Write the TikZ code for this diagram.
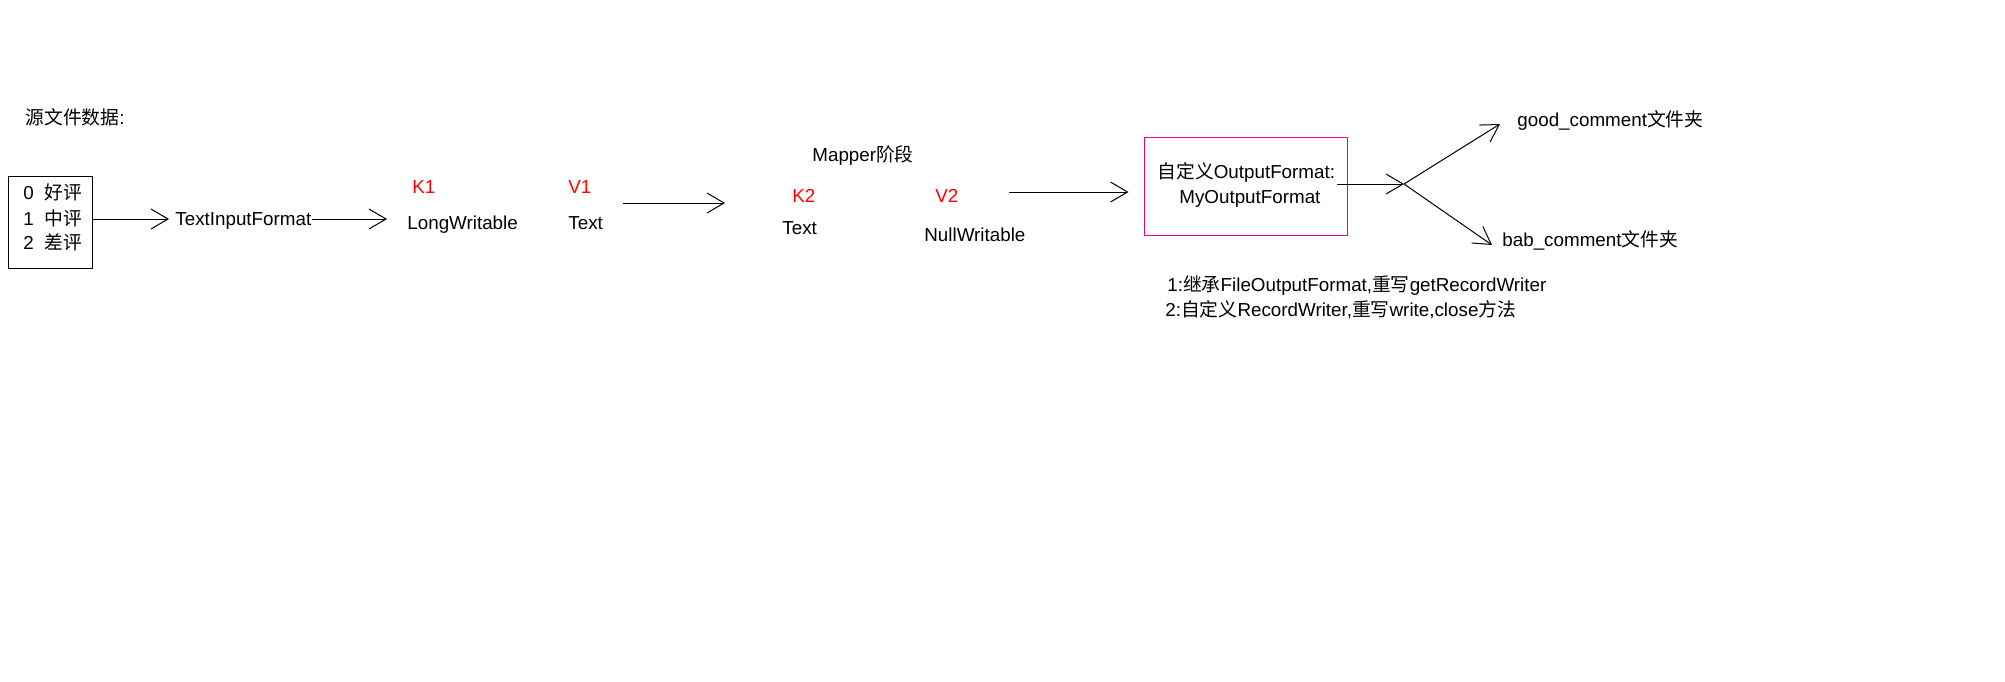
\documentclass[tikz,border=0pt]{standalone}
\usepackage{fontspec}
\setmainfont{Liberation Sans}
\newfontfamily\cjk{Noto Sans CJK SC}
\newcommand{\zh}[1]{{\cjk #1}}
\usetikzlibrary{arrows.meta}

\tikzset{
  txt/.style={draw=none, inner sep=0pt, anchor=west, text height=6.7pt, text depth=0pt,
    font=\fontsize{9.4}{11}\selectfont},
  kv/.style={txt, text=red},
  flow/.style={line width=0.5pt, -{Straight Barb[length=8.5pt,width=10pt]}},
  srcbox/.style={draw, line width=0.5pt, minimum width=42pt, minimum height=46pt, inner sep=0pt},
  fmtbox/.style={draw=magenta, line width=0.5pt, minimum width=101.5pt, minimum height=49pt, inner sep=0pt}
}

\begin{document}
\begin{tikzpicture}[x=0.5pt, y=-0.5pt]
\useasboundingbox (0,0) rectangle (2005,681);

\node [txt] (title) at (25,118) {\zh{源文件数据}:};

\node [srcbox] (src) at (50,222) {};
\foreach \Num/\Word/\Y in {0/好评/193, 1/中评/219, 2/差评/243}{
    \node [txt] (row\Num) at (23,\Y) {\Num\ \ \zh{\Word}};
}

\node [txt] (tif) at (175,219) {TextInputFormat};

\node [kv]  (k1) at (412,187) {K1};
\node [kv]  (v1) at (568,187) {V1};
\node [txt] (lw) at (407,223) {LongWritable};
\node [txt] (t1) at (568,223) {Text};

\node [txt] (mapper) at (812,155) {Mapper\zh{阶段}};
\node [kv]  (k2) at (792,196) {K2};
\node [kv]  (v2) at (935,196) {V2};
\node [txt] (t2) at (782,228) {Text};
\node [txt] (nw) at (924,235) {NullWritable};

\node [fmtbox] (fmt) at (1245.5,186) {};
\node [txt] (fmt1) at (1157,172) {\zh{自定义}OutputFormat:};
\node [txt] (fmt2) at (1179,197) {MyOutputFormat};

\node [txt] (good) at (1517,120) {good\_comment\zh{文件夹}};
\node [txt] (bad)  at (1502,240) {bab\_comment\zh{文件夹}};

\node [txt] (note1) at (1167,285) {1:\zh{继承}FileOutputFormat,\zh{重写}getRecordWriter};
\node [txt] (note2) at (1165,310) {2:\zh{自定义}RecordWriter,\zh{重写}write,close\zh{方法}};

\coordinate (m1) at (623,203);
\coordinate (m2) at (725,203);
\coordinate (m3) at (1009,192);
\coordinate (o1) at (1337,184);
\coordinate (split) at (1404,184);
\coordinate (tipgood) at (1500,124);
\coordinate (tipbad) at (1492,245);

\draw [flow] (src.east |- tif.west) -- (tif.west) [shorten >=3pt]; % into the input format
\draw [flow, shorten >=10pt] (tif.east) -- (tif.east -| lw.west);
\draw [flow] (m1) -- (m2);
\draw [flow, shorten >=7.5pt] (m3) -- (m3 -| fmt.west);
\draw [flow] (o1) -- (split);
\draw [flow] (split) -- (tipgood); % good comments
\draw [flow] (split) -- (tipbad);  % bad comments

\end{tikzpicture}
\end{document}
